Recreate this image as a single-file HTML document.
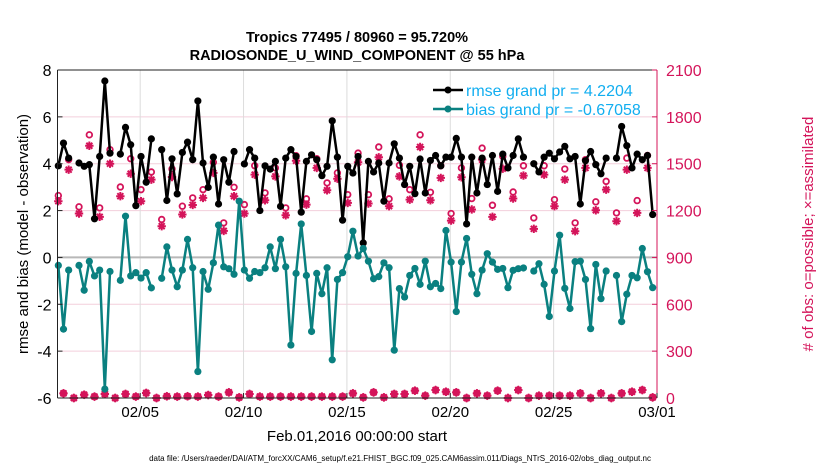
<!DOCTYPE html>
<html><head><meta charset="utf-8">
<style>
html,body{margin:0;padding:0;background:#fff;}
svg{display:block;font-family:"Liberation Sans",Arial,sans-serif;}
</style></head>
<body>
<svg id="chart" width="830" height="470" viewBox="0 0 830 470">
  <text x="357" y="42" text-anchor="middle" font-size="14.5" font-weight="bold">Tropics 77495 / 80960 = 95.720%</text>
  <text x="357" y="60" text-anchor="middle" font-size="14.5" font-weight="bold">RADIOSONDE_U_WIND_COMPONENT @ 55 hPa</text>
  <g id="grid"></g>
  <g id="marks"></g>
  <g id="axes"></g>
  <text transform="translate(28,234) rotate(-90)" text-anchor="middle" font-size="15">rmse and bias (model - observation)</text>
  <text transform="translate(813,234) rotate(-90)" text-anchor="middle" font-size="15" fill="#d4145a"># of obs: o=possible; ×=assimilated</text>
  <text x="357" y="441" text-anchor="middle" font-size="15">Feb.01,2016 00:00:00 start</text>
  <text x="400" y="461" text-anchor="middle" font-size="8">data file: /Users/raeder/DAI/ATM_forcXX/CAM6_setup/f.e21.FHIST_BGC.f09_025.CAM6assim.011/Diags_NTrS_2016-02/obs_diag_output.nc</text>
  <g id="legend">
    <line x1="433" y1="90" x2="463" y2="90" stroke="#000" stroke-width="2.5"/>
    <circle cx="448" cy="90" r="3.5" fill="#000"/>
    <text x="466" y="96" font-size="16" fill="#12aef0">rmse grand pr = 4.2204</text>
    <line x1="433" y1="109" x2="463" y2="109" stroke="#0a8080" stroke-width="2.5"/>
    <circle cx="448" cy="109" r="3.5" fill="#0a8080"/>
    <text x="466" y="115" font-size="16" fill="#12aef0">bias grand pr = -0.67058</text>
  </g>
</svg>
<script>
const rmse = [3.91,4.88,4.24,null,4.03,3.89,3.96,1.65,4.31,7.53,4.45,null,4.41,5.55,4.81,2.21,4.31,3.21,5.06,null,4.60,2.43,4.21,2.71,4.48,4.92,4.17,6.68,4.03,2.99,4.28,2.28,4.17,3.21,4.52,null,3.99,4.60,4.24,2.00,3.91,3.77,4.10,2.18,4.24,4.60,4.31,1.93,4.10,4.38,4.17,3.49,3.89,5.83,4.28,1.59,3.89,3.60,4.31,0.62,4.10,3.65,4.03,2.40,4.03,4.85,4.24,3.11,3.89,2.72,4.20,2.75,4.14,4.35,3.91,4.28,4.28,5.08,4.28,1.43,4.28,2.75,4.24,3.11,4.35,2.82,4.41,3.82,4.35,5.06,4.28,null,4.00,3.65,4.28,4.45,4.21,4.50,4.74,4.21,4.31,2.28,4.13,4.52,3.96,3.57,4.24,null,4.24,5.59,4.77,3.82,4.41,4.17,4.35,1.83];
const bias = [-0.34,-3.06,-0.54,null,-0.34,-1.40,-0.17,-0.79,-0.54,-5.62,-0.60,null,-0.98,1.76,-0.79,-0.65,-0.88,-0.65,-1.30,null,-0.89,0.45,-0.54,-1.25,-0.54,0.77,-0.44,-4.87,-0.60,-1.36,-0.23,1.38,-0.40,-0.48,-0.72,2.40,-0.54,-0.89,-0.60,-0.65,-0.44,0.45,-0.48,0.77,-0.40,-3.74,-0.68,1.43,-0.77,-3.16,-0.68,-1.55,-0.44,-4.37,-0.94,-0.65,0.03,1.12,0.06,0.38,-0.16,-0.91,-0.82,-0.23,-0.44,-3.96,-1.33,-1.69,-0.77,-0.47,-1.15,-0.16,-1.25,-1.11,-1.33,1.15,-0.20,-2.31,-0.20,0.81,-0.72,-1.55,-0.54,0.16,-0.20,-0.51,-0.47,-1.29,-0.55,-0.48,-0.45,null,-0.58,-0.27,-1.15,-2.52,-0.58,0.95,-1.32,-2.18,-0.18,-0.16,-0.94,-3.04,-0.30,-1.76,-0.58,null,-0.77,-2.74,-1.57,-0.77,-0.87,0.38,-0.61,-1.29];
const possibleMain = [1296,1526,1224,1685,1217,1590,1351,1532,1334,1447,1143,1466,1228,1281,1334,1509,1121,1349,1238,1487,1313,1473,1217,1551,1275,1532,1377,1441,1302,1568,1302,1607,1275,1490,1334,1685,1317,1487,1181,1473,1277,1600,1234,1547,1319,1487,1153,1487,1270,1466,1121,1526,1256,1387,1185,1536,1264,1553];
const assimMain = [1260,1462,1181,1615,1160,1500,1292,1436,1260,1398,1100,1415,1175,1236,1281,1441,1070,1292,1181,1430,1266,1419,1170,1519,1238,1473,1330,1404,1249,1509,1245,1541,1228,1419,1270,1607,1266,1409,1136,1413,1207,1526,1160,1468,1277,1424,1083,1430,1228,1398,1068,1473,1202,1334,1132,1462,1185,1473];
const countsOff = [30,0,21,9,26,0,26,9,32,0,11,9,11,9,19,9,36,4,26,9,9,9,9,9,9,9,9,9,30,4,36,4,26,26,47,15,51,40,36,0,30,15,47,0,51,0,15,15,15,15,30,0,30,0,30,40,51,4];
const leftTicks = [8,6,4,2,0,-2,-4,-6];
const rightTicks = [2100,1800,1500,1200,900,600,300,0];
const dateTicks = [4,9,14,19,24,29];
const dateLabels = ["02/05","02/10","02/15","02/20","02/25","03/01"];

const X0=57.5, X1=657, Y0=70, Y1=398;
const xS = d => X0 + d/29*(X1-X0);
const yL = v => Y1 - (v+6)/14*(Y1-Y0);
const yR = c => yL(c/150-6);
const dayOf = i => i*0.25+0.04;
const NS="http://www.w3.org/2000/svg";
function mk(tag, attrs, parent){const e=document.createElementNS(NS,tag);for(const k in attrs)e.setAttribute(k,attrs[k]);parent.appendChild(e);return e;}
const grid=document.getElementById('grid'), marks=document.getElementById('marks'), axes=document.getElementById('axes');

mk('rect',{x:X0,y:Y0,width:X1-X0,height:Y1-Y0,fill:'#fff'},grid);
rightTicks.forEach(c=>{ if(c===0||c===2100) return;
  const l=mk('line',{x1:X0,x2:X1,y1:yR(c),y2:yR(c),stroke:'#f3cfdc','stroke-width':1},grid);
  
  
});
dateTicks.forEach(d=>{ if(d>=29) return;
  const l=mk('line',{x1:xS(d),x2:xS(d),y1:Y0,y2:Y1,stroke:'#dcdcdc','stroke-width':1},grid);
  
  
});
const z=mk('line',{x1:X0,x2:X1,y1:yL(0),y2:yL(0),stroke:'#b8b8b8','stroke-width':2},grid);



function series(vals,color,name){
  let d='',pen=false;
  vals.forEach((v,i)=>{ if(v===null){pen=false;return;} d+=(pen?'L':'M')+xS(dayOf(i)).toFixed(1)+' '+yL(v).toFixed(1); pen=true;});
  const p=mk('path',{d:d,fill:'none',stroke:color,'stroke-width':2.5,'stroke-linejoin':'round'},marks);
  
  
  vals.forEach((v,i)=>{ if(v===null) return;
    const c=mk('circle',{cx:xS(dayOf(i)),cy:yL(v),r:3.6,fill:color},marks);
    
    
  });
}
function ring(x,y){
  const c=mk('circle',{cx:x,cy:y,r:2.8,fill:'none',stroke:'#d4145a','stroke-width':1.8},marks);
  
  
}
function star(x,y){
  const s=4.2, t=3;
  const p=mk('path',{d:`M${x-s} ${y}L${x+s} ${y}M${x} ${y-s}L${x} ${y+s}M${x-t} ${y-t}L${x+t} ${y+t}M${x-t} ${y+t}L${x+t} ${y-t}`,stroke:'#d4145a','stroke-width':2,fill:'none'},marks);
  
  
}
possibleMain.forEach((c,k)=>ring(xS(dayOf(2*k)),yR(c)));
assimMain.forEach((c,k)=>star(xS(dayOf(2*k)),yR(c)));
countsOff.forEach((c,k)=>{const x=xS(dayOf(2*k+1)),y=yR(c); ring(x,y); star(x,y);
  const d=mk('path',{d:`M${x} ${y-4.5}L${x+4} ${y}L${x} ${y+4.5}L${x-4} ${y}Z`,fill:'#d4145a'},marks);
  
  
});
series(rmse,'#000','rmse');
series(bias,'#0a8080','bias');

const bt=mk('line',{x1:X0,x2:X1,y1:Y0,y2:Y0,stroke:'#222','stroke-width':1},axes);


const bb=mk('line',{x1:X0,x2:X1,y1:Y1,y2:Y1,stroke:'#222','stroke-width':1},axes);


const bl=mk('line',{x1:X0,x2:X0,y1:Y0,y2:Y1,stroke:'#222','stroke-width':1},axes);


const br=mk('line',{x1:X1,x2:X1,y1:Y0,y2:Y1,stroke:'#d4145a','stroke-width':1},axes);


leftTicks.forEach(v=>{
  mk('line',{x1:X0,x2:X0+5,y1:yL(v),y2:yL(v),stroke:'#222'},axes);
  const t=mk('text',{x:X0-6,y:yL(v)+6,'text-anchor':'end','font-size':16},axes);
  t.textContent=v;
  
  
});
rightTicks.forEach(c=>{
  mk('line',{x1:X1-5,x2:X1,y1:yR(c),y2:yR(c),stroke:'#d4145a'},axes);
  const t=mk('text',{x:X1+9,y:yR(c)+6,'font-size':16,fill:'#d4145a'},axes);
  t.textContent=c;
  
  
});
dateTicks.forEach((d,k)=>{
  mk('line',{x1:xS(d),x2:xS(d),y1:Y1,y2:Y1-5,stroke:'#222'},axes);
  const t=mk('text',{x:xS(d),y:Y1+19,'text-anchor':'middle','font-size':15},axes);
  t.textContent=dateLabels[k];
  
  
});
</script>
</body></html>
